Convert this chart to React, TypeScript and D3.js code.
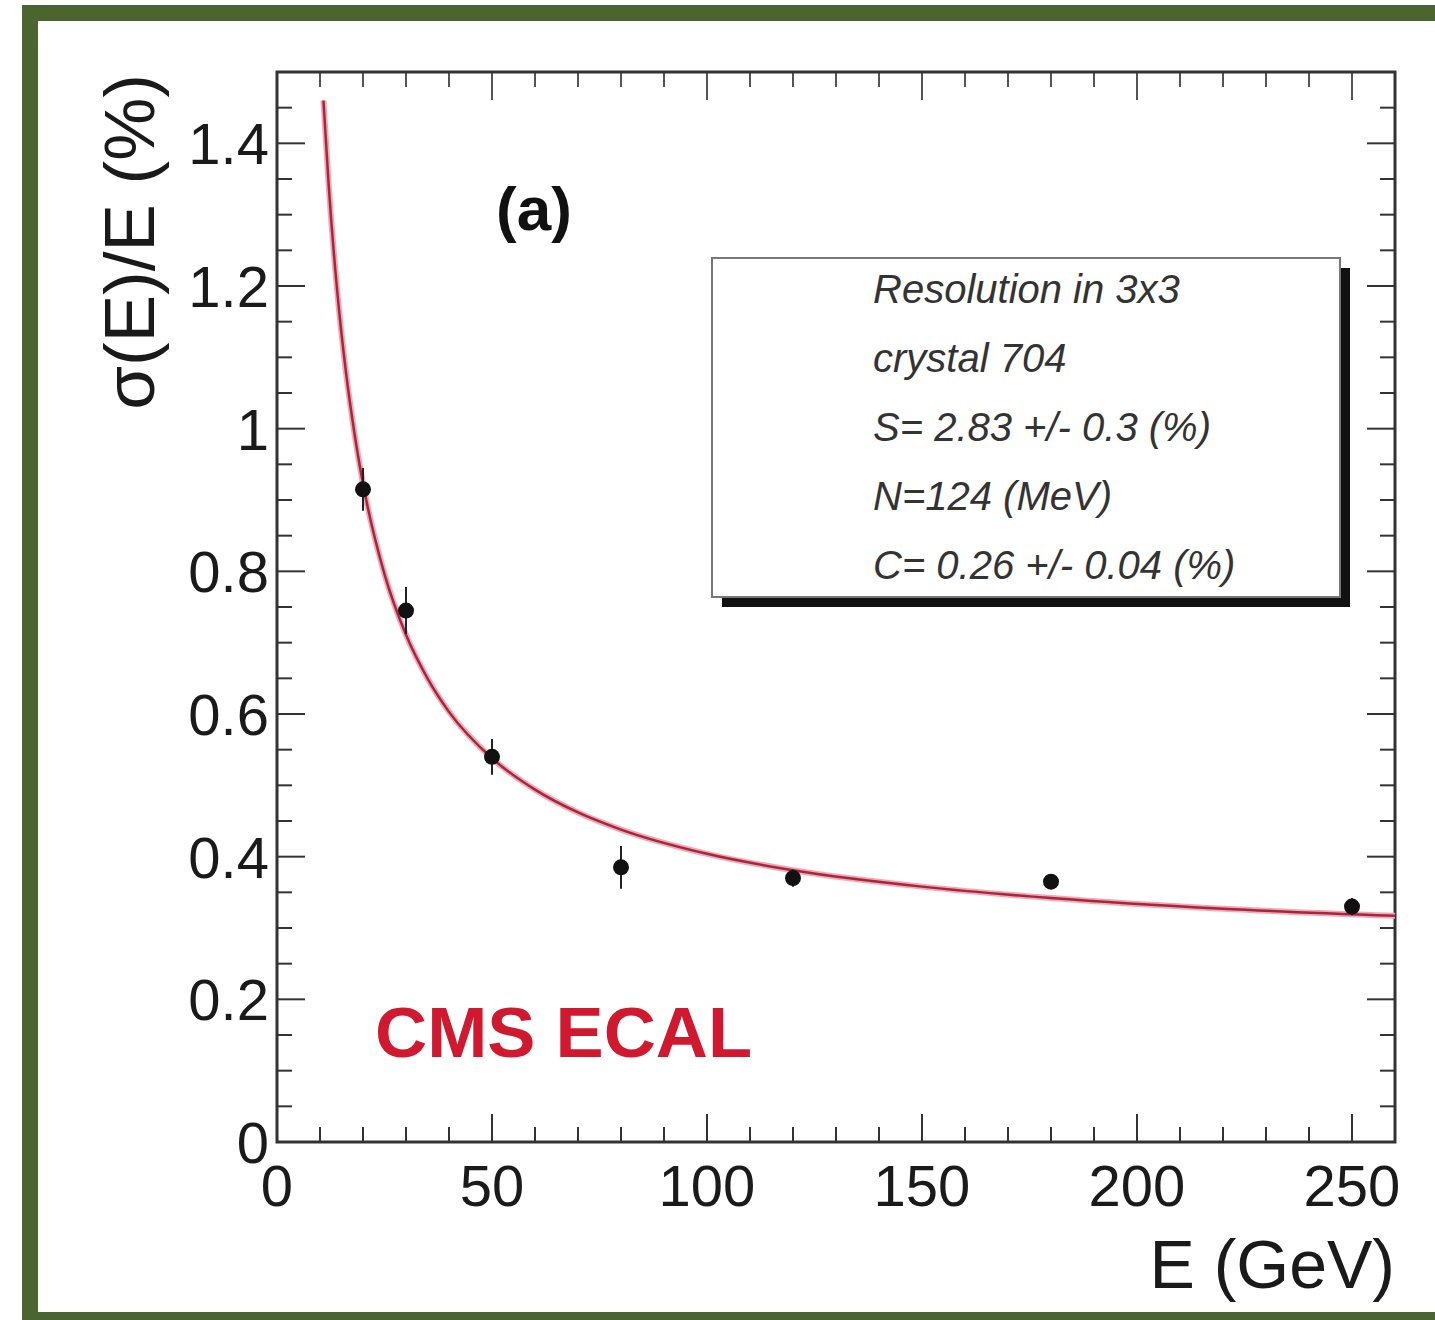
import React, { useEffect, useRef } from "react";
import * as d3 from "d3";

// measured points (E in GeV, sigma/E in %)
const energies = [20, 30, 50, 80, 120, 180, 250];
const resolution = [0.915, 0.745, 0.54, 0.385, 0.37, 0.365, 0.33];
const resolutionErr = [0.03, 0.033, 0.025, 0.03, 0.012, 0.01, 0.012];

// fit curve
const fitEnergies = [10.8, 12, 14, 16, 18, 20, 25, 30, 35, 40, 50, 60, 70, 80, 100, 120, 150, 180, 220, 260];
const fitResolution = [1.46, 1.343, 1.193, 1.081, 0.994, 0.923, 0.796, 0.711, 0.65, 0.603, 0.538, 0.494, 0.462, 0.438, 0.404, 0.381, 0.358, 0.342, 0.327, 0.317];

const xTickValues = [0, 50, 100, 150, 200, 250];
const xTickLabels = ["0", "50", "100", "150", "200", "250"];
const yTickValues = [0, 0.2, 0.4, 0.6, 0.8, 1, 1.2, 1.4];
const yTickLabels = ["0", "0.2", "0.4", "0.6", "0.8", "1", "1.2", "1.4"];
const xMinorTicks = d3.range(0, 261, 10);
const yMinorTicks = d3.range(0, 1.501, 0.05);

const legendLines = [
    "Resolution in 3x3",
    "crystal 704",
    "S= 2.83 +/- 0.3 (%)",
    "N=124 (MeV)",
    "C= 0.26 +/- 0.04 (%)",
];

const FONT = "'Liberation Sans', Arial, Helvetica, sans-serif";

const App = () => {
    const chartRef = useRef<SVGSVGElement>(null);

    useEffect(() => {
        const svg = d3.select(chartRef.current);
        svg.selectAll("*").remove();

        const width = 1435;
        const height = 1320;
        const margin = { top: 72, right: 40, bottom: 178, left: 277 };

        svg.attr("width", width).attr("height", height);

        // page background and green photo frame
        svg.append("rect").attr("width", width).attr("height", height).attr("fill", "#ffffff");
        svg.append("rect")
            .attr("x", 22).attr("y", 5)
            .attr("width", width - 22).attr("height", height - 5)
            .attr("fill", "#4b6530");
        svg.append("rect")
            .attr("x", 38).attr("y", 21)
            .attr("width", width - 38).attr("height", 1312 - 21)
            .attr("fill", "#ffffff");

        const x = d3.scaleLinear().domain([0, 260]).range([margin.left, width - margin.right]);
        const y = d3.scaleLinear().domain([0, 1.5]).range([height - margin.bottom, margin.top]);

        const x0 = x.range()[0], x1 = x.range()[1];
        const y0 = y.range()[0], y1 = y.range()[1];

        const g = svg.append("g");

        // ticks on all four sides (ROOT style)
        const minorLen = 15;
        const majorLen = 28;
        xMinorTicks.forEach((v) => {
            const len = v % 50 === 0 ? majorLen : minorLen;
            g.append("line").attr("x1", x(v)).attr("x2", x(v)).attr("y1", y0).attr("y2", y0 - len)
                .attr("stroke", "#333").attr("stroke-width", 2);
            g.append("line").attr("x1", x(v)).attr("x2", x(v)).attr("y1", y1).attr("y2", y1 + len)
                .attr("stroke", "#555").attr("stroke-width", 2);
        });
        yMinorTicks.forEach((v) => {
            const isMajor = Math.abs(v / 0.2 - Math.round(v / 0.2)) < 1e-6;
            const len = isMajor ? majorLen : minorLen;
            g.append("line").attr("x1", x0).attr("x2", x0 + len).attr("y1", y(v)).attr("y2", y(v))
                .attr("stroke", "#333").attr("stroke-width", 2);
            g.append("line").attr("x1", x1).attr("x2", x1 - len).attr("y1", y(v)).attr("y2", y(v))
                .attr("stroke", "#333").attr("stroke-width", 2);
        });

        // frame
        g.append("rect")
            .attr("x", x0).attr("y", y1)
            .attr("width", x1 - x0).attr("height", y0 - y1)
            .attr("fill", "none").attr("stroke", "#333").attr("stroke-width", 3);

        // tick labels
        g.append("g").selectAll("text").data(xTickValues).join("text")
            .attr("x", (d) => x(d))
            .attr("y", y0 + 64)
            .attr("text-anchor", "middle")
            .attr("font-family", FONT).attr("font-size", 58).attr("fill", "#1a1a1a")
            .text((d, i) => xTickLabels[i]);

        g.append("g").selectAll("text").data(yTickValues).join("text")
            .attr("x", x0 - 8)
            .attr("y", (d) => y(d) + 21)
            .attr("text-anchor", "end")
            .attr("font-family", FONT).attr("font-size", 58).attr("fill", "#1a1a1a")
            .text((d, i) => yTickLabels[i]);

        // axis titles
        g.append("text")
            .attr("transform", `translate(154, ${y1 + 2}) rotate(-90)`)
            .attr("text-anchor", "end")
            .attr("font-family", FONT).attr("font-size", 71).attr("fill", "#1a1a1a")
            .text("σ(E)/E (%)");

        g.append("text")
            .attr("x", x1)
            .attr("y", 1288)
            .attr("text-anchor", "end")
            .attr("font-family", FONT).attr("font-size", 68).attr("fill", "#1a1a1a")
            .text("E (GeV)");

        // fit curve
        const line = d3.line<number>()
            .x((d, i) => x(fitEnergies[i]))
            .y((d) => y(d))
            .curve(d3.curveMonotoneX);
        g.append("path")
            .datum(fitResolution)
            .attr("d", line)
            .attr("fill", "none")
            .attr("stroke", "#f4a8b4")
            .attr("stroke-width", 6);
        g.append("path")
            .datum(fitResolution)
            .attr("d", line)
            .attr("fill", "none")
            .attr("stroke", "#a3283e")
            .attr("stroke-width", 2.5);

        // error bars and points
        const pts = g.append("g");
        energies.forEach((e, i) => {
            pts.append("line")
                .attr("x1", x(e)).attr("x2", x(e))
                .attr("y1", y(resolution[i] - resolutionErr[i]))
                .attr("y2", y(resolution[i] + resolutionErr[i]))
                .attr("stroke", "#222").attr("stroke-width", 2);
            pts.append("circle")
                .attr("cx", x(e)).attr("cy", y(resolution[i]))
                .attr("r", 8).attr("fill", "#111");
        });

        // (a) label
        g.append("text")
            .attr("x", 534).attr("y", 230)
            .attr("text-anchor", "middle")
            .attr("font-family", FONT).attr("font-size", 62).attr("font-weight", "bold").attr("fill", "#111")
            .text("(a)");

        // CMS ECAL
        g.append("text")
            .attr("x", 375).attr("y", 1057)
            .attr("font-family", FONT).attr("font-size", 70).attr("font-weight", "bold").attr("fill", "#d0182e")
            .attr("textLength", 377).attr("lengthAdjust", "spacingAndGlyphs")
            .text("CMS ECAL");

        // fit parameter box with shadow
        const box = { x: 712, y: 258, w: 628, h: 339 };
        g.append("rect")
            .attr("x", box.x + 10).attr("y", box.y + 10)
            .attr("width", box.w).attr("height", box.h)
            .attr("fill", "#111");
        g.append("rect")
            .attr("x", box.x).attr("y", box.y)
            .attr("width", box.w).attr("height", box.h)
            .attr("fill", "#ffffff").attr("stroke", "#777").attr("stroke-width", 2);
        g.append("g").selectAll("text").data(legendLines).join("text")
            .attr("x", 873)
            .attr("y", (d, i) => 303 + i * 69)
            .attr("font-family", FONT).attr("font-size", 40).attr("font-style", "italic")
            .attr("fill", "#333")
            .text((d) => d);
    }, []);

    return (
        <div style={{ position: "absolute", left: 0, top: 0 }}>
            <svg ref={chartRef}></svg>
        </div>
    );
};

export default App;
